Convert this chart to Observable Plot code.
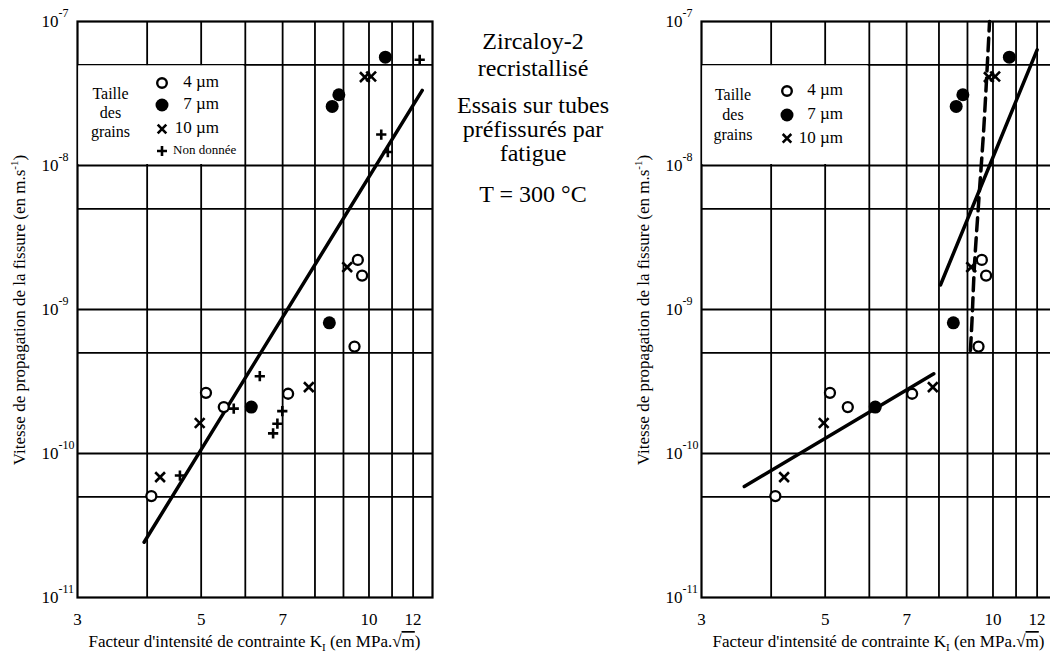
<!DOCTYPE html>
<html><head><meta charset="utf-8">
<script src="https://cdn.jsdelivr.net/npm/d3@7"></script>
<script src="https://cdn.jsdelivr.net/npm/@observablehq/plot@0.6"></script>
<style>
html,body{margin:0;padding:0;background:#fff;overflow:hidden;}
#page{position:relative;width:1050px;height:652px;overflow:hidden;font-family:"Liberation Serif","Times New Roman",serif;color:#000;background:#fff;}
#left,#right{position:absolute;top:0;width:450px;height:652px;}
#left{left:0px;} #right{left:624px;}
#left svg,#right svg{max-width:none !important;width:450px;height:652px;}
#overlay{position:absolute;left:0;top:0;pointer-events:none;}
#overlay text{font-family:"Liberation Serif","Times New Roman",serif;fill:#000;}
</style></head><body>
<div id="page"><div id="left"></div><div id="right"></div>
<svg id="overlay" width="1050" height="652" xmlns="http://www.w3.org/2000/svg"></svg></div>
<script>
// ---- axis / grid values ----
const xTickValues = [3, 5, 7, 10, 12];
const xGridValues = [4, 5, 6, 7, 8, 9, 10, 11, 12];
const yTickValues = [1e-11, 1e-10, 1e-9, 1e-8, 1e-7];
const yGridValues = [5e-11, 1e-10, 5e-10, 1e-9, 5e-9, 1e-8, 5e-8];

// ---- measured points: K_I (MPa.sqrt(m)) and crack velocity (m/s) ----
const grain4K = [4.07, 5.10, 5.49, 7.16, 9.42, 9.55, 9.72];
const grain4V = [5.06e-11, 2.64e-10, 2.10e-10, 2.60e-10, 5.53e-10, 2.21e-9, 1.72e-9];
const grain7K = [6.15, 8.49, 8.59, 8.83, 10.70];
const grain7V = [2.10e-10, 8.08e-10, 2.57e-8, 3.10e-8, 5.65e-8];
const grain10K = [4.22, 4.97, 7.80, 9.14, 9.83, 10.09];
const grain10V = [6.85e-11, 1.63e-10, 2.89e-10, 1.97e-9, 4.11e-8, 4.15e-8];
const unknownK = [4.58, 5.72, 6.37, 6.73, 6.85, 6.99, 10.52, 10.81, 12.33];
const unknownV = [7.03e-11, 2.05e-10, 3.44e-10, 1.38e-10, 1.61e-10, 1.97e-10, 1.64e-8, 1.24e-8, 5.42e-8];

// ---- fitted lines ----
const fitAllK = [3.95, 12.46];
const fitAllV = [2.42e-11, 3.32e-8];
const fitLowK = [3.58, 7.83];
const fitLowV = [5.90e-11, 3.58e-10];
const fitHighK = [8.05, 12.0];
const fitHighV = [1.48e-9, 6.36e-8];
const fitDashK = [9.11, 9.17, 9.26, 9.43, 9.63, 9.86];
const fitDashV = [5.19e-10, 8.39e-10, 1.97e-9, 5.71e-9, 1.85e-8, 1e-7];

// ---- legend labels ----
const legendTitle = ["Taille", "des", "grains"];
const legendLeft = ["4 µm", "7 µm", "10 µm", "Non donnée"];
const legendRight = ["4 µm", "7 µm", "10 µm"];
const centerLines = ["Zircaloy-2", "recristallisé", "Essais sur tubes", "préfissurés par", "fatigue", "T = 300 °C"];

const pts = (K, V) => K.map((k, i) => ({k, v: V[i]}));

function dots(withUnknown) {
  const m = [
    Plot.dot(pts(grain4K, grain4V), {x: "k", y: "v", r: 5, fill: "#fff", stroke: "#000", strokeWidth: 2.3}),
    Plot.dot(pts(grain7K, grain7V), {x: "k", y: "v", r: 6.5, fill: "#000", stroke: "none"}),
    Plot.dot(pts(grain10K, grain10V), {x: "k", y: "v", symbol: "times", r: 4.5, stroke: "#000", strokeWidth: 2.6})
  ];
  if (withUnknown) m.push(Plot.dot(pts(unknownK, unknownV), {x: "k", y: "v", symbol: "plus", r: 3.4, stroke: "#000", strokeWidth: 2.6}));
  return m;
}

function panel(lines, withUnknown) {
  return Plot.plot({
    width: 450, height: 652,
    marginLeft: 77, marginRight: 18, marginTop: 21, marginBottom: 55,
    style: {fontFamily: "'Liberation Serif', serif", fontSize: "17px", color: "#000", background: "transparent", overflow: "visible", maxWidth: "none"},
    x: {type: "log", domain: [3, 13]},
    y: {type: "log", domain: [1e-11, 1e-7]},
    marks: [
      Plot.ruleX(xGridValues, {stroke: "#000", strokeWidth: 1.8}),
      Plot.ruleY(yGridValues, {stroke: "#000", strokeWidth: 1.8}),
      Plot.frame({stroke: "#000", strokeWidth: 2.2}),
      Plot.axisX({ticks: xTickValues, tickSize: 0, tickPadding: 15, tickFormat: d => String(d), label: null, fontSize: 17}),
      Plot.axisY({ticks: yTickValues, tickSize: 0, tickPadding: 19, tickFormat: () => "10", label: null, fontSize: 17}),
      Plot.text(yTickValues, {y: d => d, frameAnchor: "left", dx: -19, dy: -8, textAnchor: "start", text: d => String(Math.round(Math.log10(d))), fontSize: 12}),
      ...lines,
      ...dots(withUnknown)
    ]
  });
}

const leftPlot = panel([
  Plot.line(pts(fitAllK, fitAllV), {x: "k", y: "v", stroke: "#000", strokeWidth: 3.5})
], true);
const rightPlot = panel([
  Plot.line(pts(fitLowK, fitLowV), {x: "k", y: "v", stroke: "#000", strokeWidth: 3.5}),
  Plot.line(pts(fitHighK, fitHighV), {x: "k", y: "v", stroke: "#000", strokeWidth: 3.5}),
  Plot.line(pts(fitDashK, fitDashV), {x: "k", y: "v", stroke: "#000", strokeWidth: 3.5, strokeDasharray: "13,7", curve: "catmull-rom"})
], false);
document.getElementById("left").appendChild(leftPlot);
document.getElementById("right").appendChild(rightPlot);

// ---- overlay: legends, titles, centre text ----
const ov = d3.select("#overlay");
const sx = leftPlot.scale("x"), sy = leftPlot.scale("y");
const offsets = [0, 624];

function legend(off, labels, cfg) {
  const x0 = off + 77 + 1.2, x1 = off + sx.apply(6) - 1.1;
  const y0 = sy.apply(5e-8) + 1, y1 = sy.apply(1e-8) - 1;
  ov.append("rect").attr("x", x0).attr("y", y0).attr("width", x1 - x0).attr("height", y1 - y0).attr("fill", "#fff");
  legendTitle.forEach((t, i) => ov.append("text").attr("x", off + cfg.tx).attr("y", cfg.ty[i]).attr("text-anchor", "middle").attr("font-size", 16).text(t));
  const sxm = off + cfg.sx;
  ov.append("circle").attr("cx", sxm).attr("cy", cfg.sy[0]).attr("r", 4.8).attr("fill", "#fff").attr("stroke", "#000").attr("stroke-width", 2.4);
  ov.append("circle").attr("cx", sxm).attr("cy", cfg.sy[1]).attr("r", 6.5).attr("fill", "#000");
  ov.append("path").attr("transform", `translate(${sxm},${cfg.sy[2]})`).attr("d", "M-4.3,-4.3L4.3,4.3M-4.3,4.3L4.3,-4.3").attr("stroke", "#000").attr("stroke-width", 2.6).attr("fill", "none");
  if (labels.length > 3) ov.append("path").attr("transform", `translate(${sxm},${cfg.sy[3]})`).attr("d", "M-5,0H5M0,-5V5").attr("stroke", "#000").attr("stroke-width", 2.6).attr("fill", "none");
  labels.forEach((t, i) => {
    if (i < 3) ov.append("text").attr("x", off + cfg.lx).attr("y", cfg.ly[i]).attr("text-anchor", "end").attr("font-size", 17).text(t);
    else ov.append("text").attr("x", off + cfg.nx).attr("y", cfg.ly[i]).attr("font-size", 13).text(t);
  });
}
legend(0, legendLeft, {tx: 110.5, ty: [99, 118, 137], sx: 162, sy: [83, 105, 129, 151], lx: 219, ly: [87, 109, 133, 154], nx: 173});
legend(624, legendRight, {tx: 109, ty: [100, 120, 139.5], sx: 163, sy: [91, 115, 138.3], lx: 219, ly: [95, 119.3, 142.7]});

// axis titles
offsets.forEach(off => {
  const cx = off + (77 + 432) / 2;
  const xt = ov.append("text").attr("x", cx).attr("y", 647).attr("text-anchor", "middle").attr("font-size", 17);
  xt.append("tspan").text("Facteur d'intensité de contrainte K");
  xt.append("tspan").attr("dy", 4).attr("font-size", 11).text("I");
  xt.append("tspan").attr("dy", -4).text(" (en MPa.√");
  xt.append("tspan").attr("text-decoration", "overline").text("m");
  xt.append("tspan").text(")");
  const yt = ov.append("text").attr("transform", `translate(${off + 25},310) rotate(-90)`).attr("text-anchor", "middle").attr("font-size", 17);
  yt.append("tspan").text("Vitesse de propagation de la fissure (en m.s");
  yt.append("tspan").attr("dy", -7).attr("font-size", 11).text("-1");
  yt.append("tspan").attr("dy", 7).text(")");
});

// centre text
const cBase = [49, 76, 113, 137, 161, 202];
centerLines.forEach((t, i) => ov.append("text").attr("x", 533).attr("y", cBase[i]).attr("text-anchor", "middle").attr("font-size", 24).text(t));
</script>
</body></html>
